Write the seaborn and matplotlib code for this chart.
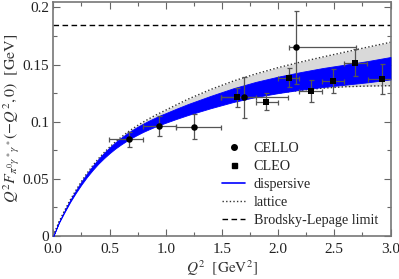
import matplotlib
matplotlib.use("Agg")
import matplotlib.pyplot as plt
import seaborn as sns
import numpy as np
import pandas as pd
from matplotlib.lines import Line2D

# ---- data ----
q2_band = [0.0, 0.05, 0.1, 0.15, 0.2, 0.25, 0.3, 0.35, 0.4, 0.45, 0.5, 0.55, 0.6, 0.65,
           0.7, 0.75, 0.8, 0.85, 0.9, 0.95, 1.0, 1.1, 1.2, 1.4, 1.6, 1.8, 2.0, 2.2,
           2.4, 2.6, 2.8, 3.0]
disp_center = [0.0, 0.0119, 0.0215, 0.0306, 0.0387, 0.0463, 0.0532, 0.0595, 0.0652,
               0.0703, 0.0749, 0.0791, 0.0828, 0.0862, 0.0893, 0.0921, 0.0947, 0.0971,
               0.0993, 0.1014, 0.1033, 0.1071, 0.1107, 0.1172, 0.1232, 0.1282, 0.1322,
               0.1357, 0.1387, 0.1412, 0.1438, 0.1468]
disp_halfwidth = [0.0, 0.0003, 0.0006, 0.0008, 0.0010, 0.0013, 0.0015, 0.0018, 0.0020,
                  0.0023, 0.0025, 0.0027, 0.0029, 0.0031, 0.0033, 0.0035, 0.0036, 0.0038,
                  0.0039, 0.0041, 0.0042, 0.0045, 0.0048, 0.0054, 0.0060, 0.0066, 0.0072,
                  0.0077, 0.0083, 0.0088, 0.0093, 0.0098]
latt_lower = [0.0, 0.0118, 0.0212, 0.0302, 0.0382, 0.0457, 0.0525, 0.0586, 0.0642, 0.0692,
              0.0737, 0.0778, 0.0814, 0.0847, 0.0877, 0.0904, 0.0929, 0.0952, 0.0974,
              0.0994, 0.1012, 0.1048, 0.1080, 0.1135, 0.1185, 0.1225, 0.1252, 0.1275,
              0.1294, 0.1306, 0.1312, 0.1315]
latt_upper = [0.0, 0.0122, 0.0222, 0.0315, 0.0398, 0.0477, 0.0550, 0.0615, 0.0675, 0.0728,
              0.0777, 0.0821, 0.0862, 0.0900, 0.0935, 0.0967, 0.0997, 0.1025, 0.1052,
              0.1077, 0.1101, 0.1150, 0.1198, 0.1282, 0.1355, 0.1418, 0.1473, 0.1522,
              0.1567, 0.1610, 0.1653, 0.1695]

bl_limit = 0.1848

cello_q2 = [0.675, 0.936, 1.252, 1.694, 2.16]
cello_val = [0.0846, 0.0962, 0.0957, 0.1213, 0.165]
cello_qlo = [0.495, 0.80, 1.096, 1.495, 2.093]
cello_qhi = [0.80, 1.096, 1.495, 2.09, 2.69]
cello_err = [0.0067, 0.0089, 0.0107, 0.018, 0.032]

cleo_q2 = [1.634, 1.892, 2.093, 2.289, 2.49, 2.688, 2.928]
cleo_val = [0.1213, 0.1175, 0.1385, 0.127, 0.1353, 0.1516, 0.1374]
cleo_qlo = [1.495, 1.80, 2.0, 2.19, 2.39, 2.585, 2.80]
cleo_qhi = [1.80, 2.0, 2.19, 2.39, 2.59, 2.79, 3.10]
cleo_err = [0.0085, 0.0076, 0.0083, 0.0095, 0.0105, 0.012, 0.0128]

x_ticks = [0.0, 0.5, 1.0, 1.5, 2.0, 2.5, 3.0]
x_ticklabels = ["0.0", "0.5", "1.0", "1.5", "2.0", "2.5", "3.0"]
y_ticks = [0, 0.05, 0.1, 0.15, 0.2]
y_ticklabels = ["0", "0.05", "0.1", "0.15", "0.2"]
legend_labels = ["CELLO", "CLEO", "dispersive", "lattice", "Brodsky-Lepage limit"]

# ---- style ----
sns.set_theme(style="ticks")
plt.rcParams["font.family"] = ["Liberation Serif", "DejaVu Serif"]
plt.rcParams["mathtext.fontset"] = "stix"

fig = plt.figure(figsize=(3.99, 2.79), dpi=100)
ax = fig.add_axes([0.1336, 0.154, 0.8451, 0.840])

band = pd.DataFrame({"q2": q2_band, "c": disp_center, "hw": disp_halfwidth,
                     "ll": latt_lower, "lu": latt_upper})
band["dl"] = band["c"] - band["hw"]
band["du"] = band["c"] + band["hw"]

dot = (0, (1, 1.6))
# lattice band
ax.fill_between(band["q2"], band["ll"], band["lu"], color="#d9d9d9", lw=0, zorder=1)
sns.lineplot(data=band, x="q2", y="lu", ax=ax, color="#333333", lw=1.0,
             linestyle=dot, zorder=2)
sns.lineplot(data=band, x="q2", y="ll", ax=ax, color="#333333", lw=1.0,
             linestyle=dot, zorder=2)
# dispersive band
ax.fill_between(band["q2"], band["dl"], band["du"], color="#0000ff", lw=0.6,
                edgecolor="#0000ff", zorder=3)

# Brodsky-Lepage
ax.axhline(bl_limit, color="black", lw=1.0, linestyle=(0, (4, 2.5)), zorder=2)

# data
cello = pd.DataFrame({"q2": cello_q2, "v": cello_val})
cleo = pd.DataFrame({"q2": cleo_q2, "v": cleo_val})
for q, v, lo, hi, e in zip(cello_q2, cello_val, cello_qlo, cello_qhi, cello_err):
    ax.errorbar([q], [v], xerr=[[q - lo], [hi - q]], yerr=[e], fmt="none",
                ecolor="#555555", elinewidth=0.9, capsize=1.8, capthick=0.9, zorder=4)
for q, v, lo, hi, e in zip(cleo_q2, cleo_val, cleo_qlo, cleo_qhi, cleo_err):
    ax.errorbar([q], [v], xerr=[[q - lo], [hi - q]], yerr=[e], fmt="none",
                ecolor="#555555", elinewidth=0.9, capsize=1.8, capthick=0.9, zorder=4)
sns.scatterplot(data=cello, x="q2", y="v", ax=ax, marker="o", s=22, color="black",
                edgecolor="black", linewidth=0, zorder=5)
sns.scatterplot(data=cleo, x="q2", y="v", ax=ax, marker="s", s=20, color="black",
                edgecolor="black", linewidth=0, zorder=5)

ax.set_xlim(0, 3.0)
ax.set_ylim(0, 0.205)
ax.set_xticks(x_ticks)
ax.set_xticklabels(x_ticklabels)
ax.set_yticks(y_ticks)
ax.set_yticklabels(y_ticklabels)
ax.set_xticks(np.arange(0.25, 3.0, 0.5), minor=True)
ax.set_yticks(np.arange(0.025, 0.2, 0.05), minor=True)
ax.tick_params(which="both", direction="in", top=True, right=True,
               labelsize=11, colors="#222222")
ax.tick_params(axis="x", pad=5)
ax.tick_params(axis="y", pad=3)
ax.tick_params(which="major", length=5, width=0.8, color="#666666")
ax.tick_params(which="minor", length=3, width=0.8, color="#666666")
for s in ax.spines.values():
    s.set_color("#777777")
    s.set_linewidth(1.2)

ax.set_xlabel(r"$Q^2\ \ \left[\mathrm{GeV}^2\right]$", fontsize=11, color="#333333", labelpad=1.5)
ax.set_ylabel(r"$Q^2 F_{\pi^0\gamma^*\gamma^*}(-Q^2,0)\ \ [\mathrm{GeV}]$", fontsize=11.5,
              color="#333333")
ax.yaxis.set_label_coords(-0.092, 0.5)

handles = [
    Line2D([], [], marker="o", color="black", linestyle="none", markersize=4),
    Line2D([], [], marker="s", color="black", linestyle="none", markersize=3.6),
    Line2D([], [], color="#0000ff", lw=1.2),
    Line2D([], [], color="#333333", lw=1.0, linestyle=dot),
    Line2D([], [], color="black", lw=1.0, linestyle=(0, (4, 2.5))),
]
ax.legend(handles, legend_labels, loc="upper left", bbox_to_anchor=(0.50, 0.40),
          frameon=False, fontsize=10.2, handlelength=1.65, handletextpad=0.6,
          labelspacing=0.35, borderpad=0, borderaxespad=0)

fig.savefig("out.png", dpi=100)
